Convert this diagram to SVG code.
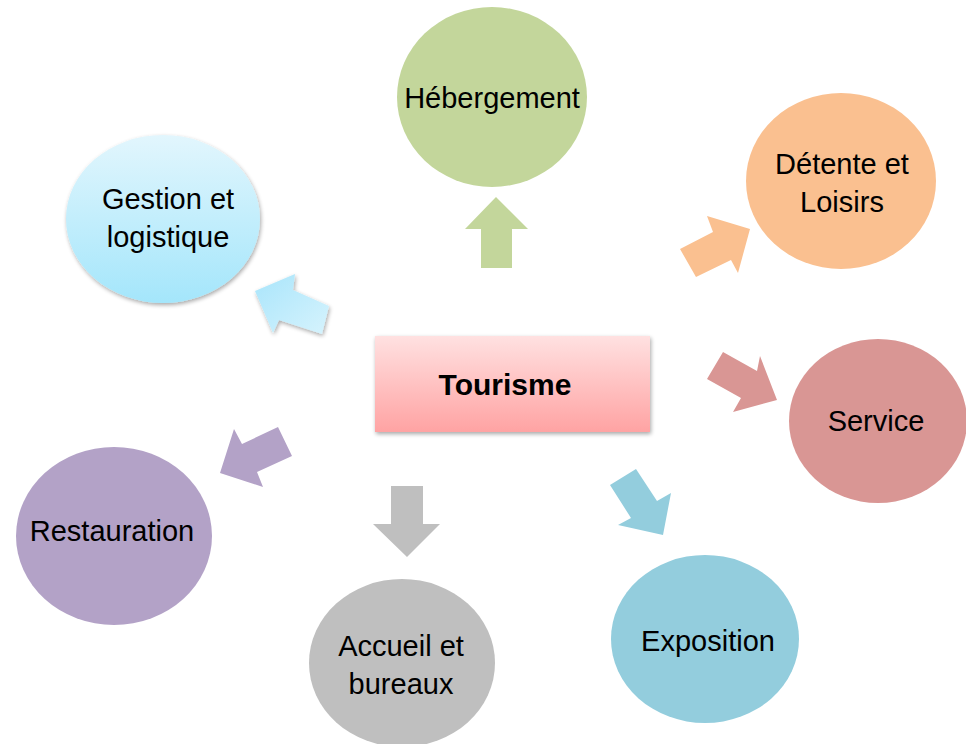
<svg xmlns="http://www.w3.org/2000/svg" width="966" height="744" viewBox="0 0 966 744">
<defs>
<linearGradient id="gPink" x1="0" y1="0" x2="0" y2="1"><stop offset="0" stop-color="#ffe1e1"/><stop offset="1" stop-color="#ffa3a3"/></linearGradient>
<linearGradient id="gBlue" x1="0" y1="0" x2="0" y2="1"><stop offset="0" stop-color="#e2f6fd"/><stop offset="1" stop-color="#a4e6fb"/></linearGradient>
<linearGradient id="gBlueArrow" x1="0" y1="0" x2="1" y2="1"><stop offset="0" stop-color="#a9e5fb"/><stop offset="1" stop-color="#d6f3fd"/></linearGradient>
<filter id="sh" x="-10%" y="-10%" width="125%" height="130%"><feGaussianBlur in="SourceAlpha" stdDeviation="2"/><feOffset dx="1" dy="2"/><feComponentTransfer><feFuncA type="linear" slope="0.35"/></feComponentTransfer><feMerge><feMergeNode/><feMergeNode in="SourceGraphic"/></feMerge></filter>
</defs>
<style>
text{font-family:"Liberation Sans",Arial,sans-serif;font-size:29px;fill:#000;text-anchor:middle}
.b{font-weight:bold;font-size:30px}
</style>
<rect width="966" height="744" fill="#fff"/>
<g id="connectors">
<polygon points="481,268 481,229 465,229 496,197 528,229 512,229 512,268" fill="#c3d69b"/>
<polygon points="680,249 713,232 707,216 750,229 738,273 731,260 696,277" fill="#fac090"/>
<polygon points="255,291 295,274 293,290 329,306 322,334 279,320 273,333" fill="url(#gBlueArrow)" filter="url(#sh)"/>
<polygon points="707,379 723,352 757,371 760,356 777,400 733,412 741,398" fill="#d99694"/>
<polygon points="610,485 636,469 657,501 671,493 663,535 618,525 631,518" fill="#93cddd"/>
<polygon points="391,486 423,486 423,524 440,524 407,557 373,524 391,524" fill="#bfbfbf"/>
<polygon points="278,427 292,456 257,472 263,487 220,473 234,429 242,444" fill="#b3a2c7"/>
</g>
<g id="tourisme">
<rect x="375" y="336" width="275" height="96" fill="url(#gPink)" filter="url(#sh)"/>
<text class="b" x="505" y="395">Tourisme</text>
</g>
<g id="hebergement">
<ellipse cx="492" cy="97" rx="95" ry="90" fill="#c3d69b"/>
<text x="492" y="108">Hébergement</text>
</g>
<g id="detente">
<ellipse cx="841" cy="181" rx="95" ry="88" fill="#fac090"/>
<text x="842" y="174">Détente et</text>
<text x="842" y="212">Loisirs</text>
</g>
<g id="gestion">
<ellipse cx="163" cy="219" rx="97" ry="84" fill="url(#gBlue)" filter="url(#sh)"/>
<text x="168" y="209">Gestion et</text>
<text x="168" y="247">logistique</text>
</g>
<g id="service">
<ellipse cx="878" cy="421" rx="89" ry="82" fill="#d99694"/>
<text x="876" y="431">Service</text>
</g>
<g id="restauration">
<ellipse cx="114" cy="536" rx="98" ry="89" fill="#b3a2c7"/>
<text x="112" y="541">Restauration</text>
</g>
<g id="accueil">
<ellipse cx="402" cy="663" rx="93" ry="84" fill="#bfbfbf"/>
<text x="401" y="656">Accueil et</text>
<text x="401" y="694">bureaux</text>
</g>
<g id="exposition">
<ellipse cx="705" cy="639" rx="94" ry="84" fill="#93cddd"/>
<text x="708" y="651">Exposition</text>
</g>
</svg>
